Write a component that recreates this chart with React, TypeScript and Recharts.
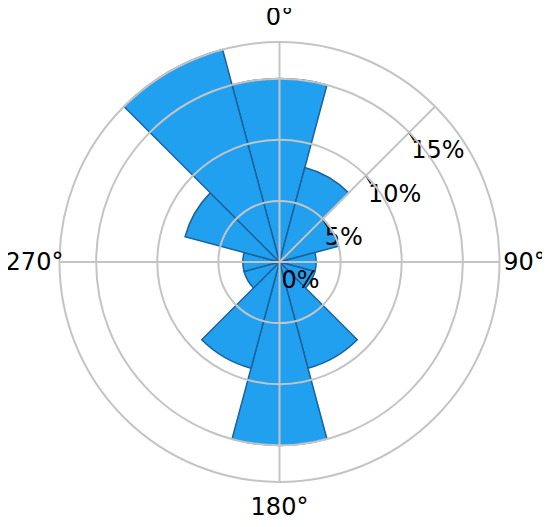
import React from "react";
import {
  RadialBarChart,
  RadialBar,
  PolarGrid,
  PolarAngleAxis,
  PolarRadiusAxis,
} from "recharts";

const directions = ["0°", "30°", "60°", "90°", "120°", "150°", "180°", "210°", "240°", "270°", "300°", "330°"];
const frequencies = [15, 8, 5, 3, 3, 9, 15, 9, 3, 3, 8, 18];
const compassLabels = ["0°", "90°", "180°", "270°"];
const radiusTicks = [0, 5, 10, 15, 18];
const radiusLabels = [0, 5, 10, 15];

const data = directions.map((d, i) => ({ direction: d, value: frequencies[i] }));
const compassData = compassLabels.map((l) => ({ label: l }));

const FONT = "DejaVu Sans, Verdana, sans-serif";
const GRID = "#c4c4c4";
const W = 550;
const H = 527;
const CX = 279.5;
const CY = 262;
const R = 220;

const AngleTick = (props: any) => {
  const { x, y, payload } = props;
  return (
    <text x={x} y={y} textAnchor="middle" dominantBaseline="central" fontSize={24} fontFamily={FONT} fill="#000">
      {payload.value}
    </text>
  );
};

const RadiusTick = (props: any) => {
  const { x, y, payload } = props;
  if (!radiusLabels.includes(payload.value)) return <g />;
  return (
    <g>
      {payload.value > 0 && (
        <line x1={x} y1={y} x2={x + 5} y2={y + 8} stroke="#000" strokeWidth={1.8} />
      )}
      <text x={x + 2} y={y + 18} textAnchor="start" dominantBaseline="central" fontSize={24} fontFamily={FONT} fill="#000">
        {payload.value}%
      </text>
    </g>
  );
};

export default function App() {
  return (
    <div style={{ position: "relative", width: W, height: H, margin: -8 }}>
      <RadialBarChart
        width={W}
        height={H}
        data={data}
        layout="centric"
        cx={CX}
        cy={CY}
        innerRadius={0}
        outerRadius={R}
        startAngle={75}
        endAngle={-285}
        barCategoryGap={0}
        barGap={0}
        margin={{ top: 0, right: 0, bottom: 0, left: 0 }}
      >
        <RadialBar
          dataKey="value"
          fill="#22a0f0"
          stroke="#1b629b"
          strokeWidth={1.5}
          isAnimationActive={false}
        />
        <PolarGrid
          gridType="circle"
          polarAngles={[90, 0, -90, 180]}
          stroke={GRID}
          strokeWidth={2}
          zIndex={600}
        />
        <PolarAngleAxis
          dataKey="direction"
          type="category"
          tick={false}
          tickLine={false}
          axisLine={false}
        />
        <PolarRadiusAxis
          type="number"
          angle={45}
          domain={[0, 18]}
          ticks={radiusTicks}
          axisLine={{ stroke: GRID, strokeWidth: 2 }}
          tick={RadiusTick}
        />
      </RadialBarChart>
      <div style={{ position: "absolute", left: 0, top: 0, pointerEvents: "none" }}>
        <RadialBarChart
          width={W}
          height={H}
          data={compassData}
          layout="centric"
          cx={CX}
          cy={CY}
          innerRadius={0}
          outerRadius={R}
          startAngle={90}
          endAngle={-270}
          margin={{ top: 0, right: 0, bottom: 0, left: 0 }}
        >
          <PolarAngleAxis
            dataKey="label"
            type="category"
            tickSize={25}
            tickLine={false}
            axisLine={false}
            tick={AngleTick}
          />
        </RadialBarChart>
      </div>
    </div>
  );
}
